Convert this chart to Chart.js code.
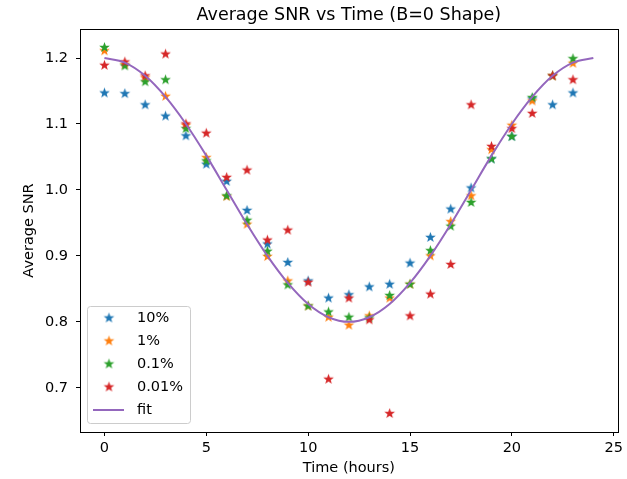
<!DOCTYPE html>
<html>
<head>
<meta charset="utf-8">
<script src="https://cdn.jsdelivr.net/npm/chart.js@4.4.1/dist/chart.umd.min.js"></script>
<style>
  body { margin: 0; background: #fff; }
</style>
</head>
<body>
<canvas id="myChart" width="627" height="479"></canvas>
<script>
// values
const hours = [0, 1, 2, 3, 4, 5, 6, 7, 8, 9, 10, 11, 12, 13, 14, 15, 16, 17, 18, 19, 20, 21, 22, 23]
const snr10 = [1.147, 1.146, 1.129, 1.112, 1.082, 1.039, 1.013, 0.969, 0.918, 0.890, 0.862, 0.836, 0.841, 0.853, 0.857, 0.889, 0.928, 0.971, 1.003, 1.047, 1.081, 1.138, 1.129, 1.147]
const snr1 = [1.211, 1.190, 1.170, 1.142, 1.098, 1.049, 0.990, 0.948, 0.899, 0.862, 0.824, 0.807, 0.795, 0.809, 0.836, 0.857, 0.900, 0.952, 0.991, 1.061, 1.098, 1.135, 1.173, 1.192]
const snr01 = [1.216, 1.188, 1.164, 1.167, 1.093, 1.044, 0.991, 0.954, 0.907, 0.856, 0.824, 0.815, 0.807, 0.806, 0.840, 0.857, 0.908, 0.945, 0.981, 1.047, 1.081, 1.140, 1.173, 1.199]
const snr001 = [1.189, 1.194, 1.173, 1.206, 1.100, 1.086, 1.019, 1.030, 0.924, 0.939, 0.860, 0.713, 0.836, 0.803, 0.661, 0.809, 0.842, 0.887, 1.129, 1.066, 1.093, 1.116, 1.173, 1.167]

const fitHours = [0, 1, 2, 3, 4, 5, 6, 7, 8, 9, 10, 11, 12, 13, 14, 15, 16, 17, 18, 19, 20, 21, 22, 23, 24]
const fitValues = [1.2, 1.193, 1.173, 1.141, 1.1, 1.052, 1.0, 0.948, 0.9, 0.859, 0.827, 0.807, 0.8, 0.807, 0.827, 0.859, 0.9, 0.948, 1.0, 1.052, 1.1, 1.141, 1.173, 1.193, 1.2]

const seriesLabels = ['10%', '1%', '0.1%', '0.01%', 'fit']
const xTicks = [0, 5, 10, 15, 20, 25]
const yTicks = [0.7, 0.8, 0.9, 1.0, 1.1, 1.2]
const chartTitle = 'Average SNR vs Time (B=0 Shape)'

const colors = ['#1f77b4', '#ff7f0e', '#2ca02c', '#d62728', '#9467bd']
const FONT = "'DejaVu Sans', sans-serif"

// filled five point star like matplotlib's '*' marker
function starImage(color) {
  const c = document.createElement('canvas')
  c.width = 13
  c.height = 13
  const g = c.getContext('2d')
  const R = 5.6, r = 2.3
  g.beginPath()
  for (let i = 0; i < 10; i++) {
    const rad = i % 2 === 0 ? R : r
    const a = -Math.PI / 2 + i * Math.PI / 5
    const px = 6.5 + rad * Math.cos(a), py = 6.5 + rad * Math.sin(a)
    if (i === 0) g.moveTo(px, py)
    else g.lineTo(px, py)
  }
  g.closePath()
  g.fillStyle = color
  g.fill()
  return c
}
const stars = colors.map(starImage)

const toPoints = (xs, ys) => xs.map((x, i) => ({x: x, y: ys[i]}))

const scatterSet = (i, values) => ({
  label: seriesLabels[i],
  data: toPoints(hours, values),
  showLine: false,
  pointStyle: stars[i],
  pointRadius: 6,
  borderColor: colors[i],
  backgroundColor: colors[i],
  order: 4 - i
})

// title over the axes, axes box and legend inside the plot, matplotlib style
const boxAndLegend = {
  id: 'boxAndLegend',
  afterDraw(chart) {
    const {ctx, chartArea: a} = chart
    ctx.save()
    ctx.fillStyle = '#000'
    ctx.font = '17.5px ' + FONT
    ctx.textAlign = 'center'
    ctx.textBaseline = 'middle'
    ctx.fillText(chartTitle, (a.left + a.right) / 2, 15)

    ctx.strokeStyle = '#000'
    ctx.lineWidth = 1
    ctx.strokeRect(Math.round(a.left) + 0.5, Math.round(a.top) + 0.5,
      Math.round(a.right - a.left), Math.round(a.bottom - a.top))

    const lx = a.left + 7, ly = a.bottom - 126, lw = 103, lh = 117
    ctx.beginPath()
    ctx.roundRect(lx + 0.5, ly + 0.5, lw, lh, 3)
    ctx.fillStyle = 'rgba(255,255,255,0.8)'
    ctx.fill()
    ctx.strokeStyle = '#cccccc'
    ctx.stroke()

    ctx.font = '14.5px ' + FONT
    ctx.textAlign = 'left'
    seriesLabels.forEach((lab, i) => {
      const y = ly + 12 + i * 23
      if (i < 4) {
        ctx.drawImage(stars[i], lx + 22 - 6.5, y - 6.5)
      } else {
        ctx.beginPath()
        ctx.moveTo(lx + 6, y)
        ctx.lineTo(lx + 37, y)
        ctx.strokeStyle = colors[4]
        ctx.lineWidth = 2
        ctx.stroke()
      }
      ctx.fillStyle = '#000'
      ctx.fillText(lab, lx + 50, y)
    })
    ctx.restore()
  }
}

const ctx = document.getElementById('myChart')
new Chart(ctx, {
  type: 'scatter',
  data: {
    datasets: [
      scatterSet(0, snr10),
      scatterSet(1, snr1),
      scatterSet(2, snr01),
      scatterSet(3, snr001),
      {
        label: seriesLabels[4],
        type: 'line',
        data: toPoints(fitHours, fitValues),
        showLine: true,
        borderColor: colors[4],
        borderWidth: 2,
        pointRadius: 0,
        tension: 0.4,
        cubicInterpolationMode: 'monotone',
        fill: false,
        order: 0
      }
    ]
  },
  options: {
    responsive: false,
    animation: false,
    layout: { padding: { top: 29, right: 8, bottom: 2, left: 0 } },
    plugins: {
      legend: { display: false },
      tooltip: { enabled: false },
      title: { display: false }
    },
    scales: {
      x: {
        type: 'linear',
        min: -1.2,
        max: 25.2,
        afterBuildTicks: s => { s.ticks = xTicks.map(v => ({value: v})) },
        afterFit: s => { s.height = 45 },
        border: { display: false },
        grid: { drawOnChartArea: false, drawTicks: true, tickLength: 4, color: '#000' },
        ticks: { color: '#000', padding: 4, font: { family: FONT, size: 14.5 } },
        title: { display: true, text: 'Time (hours)', color: '#000', padding: { top: 0, bottom: 0 }, font: { family: FONT, size: 14.5 } }
      },
      y: {
        min: 0.633,
        max: 1.244,
        afterBuildTicks: s => { s.ticks = yTicks.map(v => ({value: v})) },
        afterFit: s => { s.width = 80 },
        border: { display: false },
        grid: { drawOnChartArea: false, drawTicks: true, tickLength: 4, color: '#000' },
        ticks: { color: '#000', padding: 8, font: { family: FONT, size: 14.5 }, callback: v => v.toFixed(1) },
        title: { display: true, text: 'Average SNR', color: '#000', padding: { top: 21, bottom: 0 }, font: { family: FONT, size: 14.5 } }
      }
    }
  },
  plugins: [boxAndLegend]
})
</script>
</body>
</html>
